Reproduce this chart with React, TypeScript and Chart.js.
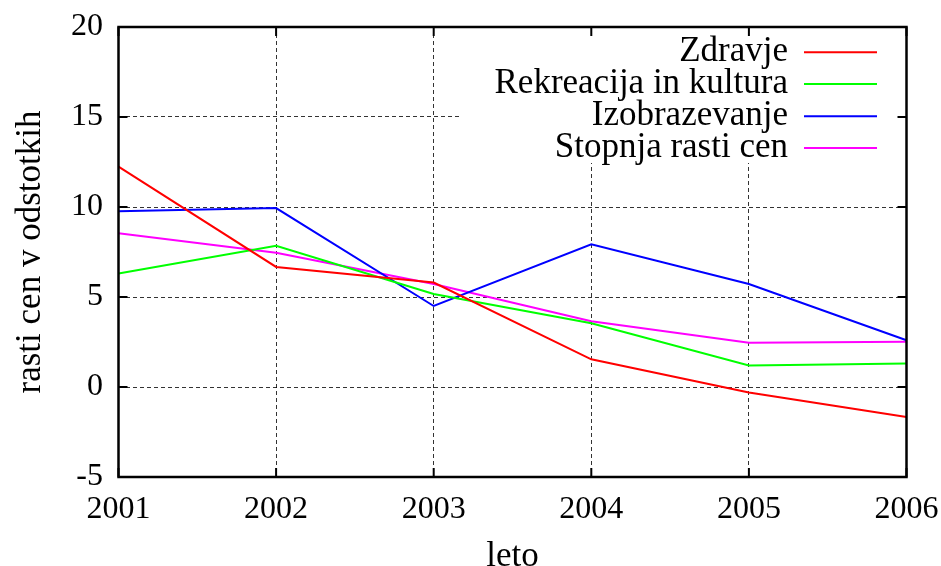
import React, { useEffect, useRef } from "react";
import { Chart, registerables } from "chart.js";

Chart.register(...registerables);

const years = ["2001", "2002", "2003", "2004", "2005", "2006"];
const zdravje = [12.24, 6.67, 5.8, 1.54, -0.3, -1.67];
const rekreacija = [6.3, 7.85, 5.17, 3.54, 1.2, 1.3];
const izobrazevanje = [9.76, 9.94, 4.5, 7.93, 5.72, 2.6];
const stopnja = [8.54, 7.46, 5.72, 3.65, 2.46, 2.52];
const seriesNames = ["Zdravje", "Rekreacija in kultura", "Izobrazevanje", "Stopnja rasti cen"];
const seriesColors = ["#ff0000", "#00ff00", "#0000ff", "#ff00ff"];
const yTicks = [-5, 0, 5, 10, 15, 20];
const xTitle = "leto";
const yTitle = "rasti cen v odstotkih";

const FONT = "'Liberation Serif', 'Times New Roman', serif";
const TICK_SIZE = 32;
const TEXT_SIZE = 35;

const framePlugin = {
  id: "gnuFrame",
  beforeDatasetsDraw(chart: any) {
    const { ctx, chartArea } = chart;
    ctx.save();
    ctx.fillStyle = "#ffffff";
    ctx.fillRect(462, chartArea.top + 1, chartArea.right - 462 - 1, 135);
    ctx.restore();
  },
  afterDraw(chart: any) {
    const { ctx, chartArea, scales } = chart;
    const { left, right, top, bottom } = chartArea;
    ctx.save();
    ctx.strokeStyle = "#000";
    ctx.lineWidth = 2;
    ctx.setLineDash([]);
    const tl = 9;
    ctx.beginPath();
    scales.x.ticks.forEach((_t: any, i: number) => {
      const px = scales.x.getPixelForTick(i);
      ctx.moveTo(px, bottom);
      ctx.lineTo(px, bottom - tl);
      ctx.moveTo(px, top);
      ctx.lineTo(px, top + tl);
    });
    scales.y.ticks.forEach((_t: any, i: number) => {
      const py = scales.y.getPixelForTick(i);
      ctx.moveTo(left, py);
      ctx.lineTo(left + tl, py);
      ctx.moveTo(right, py);
      ctx.lineTo(right - tl, py);
    });
    ctx.stroke();
    ctx.lineWidth = 2.5;
    ctx.strokeRect(left, top, right - left, bottom - top);

    ctx.font = `${TEXT_SIZE}px ${FONT}`;
    ctx.textAlign = "right";
    ctx.textBaseline = "middle";
    const rowY = [52.3, 84, 116.3, 148];
    chart.data.datasets.forEach((ds: any, i: number) => {
      const y = rowY[i];
      ctx.fillStyle = "#000";
      ctx.fillText(ds.label, 788, y);
      ctx.strokeStyle = ds.borderColor;
      ctx.lineWidth = 2;
      ctx.beginPath();
      ctx.moveTo(804, y);
      ctx.lineTo(877, y);
      ctx.stroke();
    });
    ctx.restore();
  },
};

export default function App() {
  const ref = useRef<HTMLCanvasElement | null>(null);

  useEffect(() => {
    document.body.style.margin = "0";
    const canvas = ref.current;
    if (!canvas) return;
    const data = [zdravje, rekreacija, izobrazevanje, stopnja];
    const chart = new Chart(canvas, {
      type: "line",
      data: {
        labels: years,
        datasets: data.map((d, i) => ({
          label: seriesNames[i],
          data: d,
          borderColor: seriesColors[i],
          backgroundColor: seriesColors[i],
          borderWidth: 2,
          pointRadius: 0,
          tension: 0,
          fill: false,
        })),
      },
      options: {
        animation: false,
        responsive: false,
        devicePixelRatio: 1,
        layout: { padding: { left: 0, top: 27, right: 34.5, bottom: 0 } },
        plugins: {
          legend: { display: false },
          tooltip: { enabled: false },
        },
        scales: {
          x: {
            type: "category",
            offset: false,
            grid: {
              color: "rgba(0,0,0,0.8)",
              lineWidth: 1,
              drawTicks: false,
              offset: false,
            },
            border: { display: false, dash: [4, 3] },
            ticks: {
              color: "#000",
              font: { family: FONT, size: TICK_SIZE },
              padding: 13,
              maxRotation: 0,
              autoSkip: false,
            },
            title: {
              display: true,
              text: xTitle,
              color: "#000",
              font: { family: FONT, size: TEXT_SIZE },
              padding: { top: 0, bottom: -12 },
            },
            afterFit(scale: any) {
              scale.height = 566 - 477;
              scale.paddingLeft = 0;
              scale.paddingRight = 0;
              scale.paddingTop = 0;
              scale.paddingBottom = 0;
            },
          },
          y: {
            type: "linear",
            min: -5,
            max: 20,
            afterBuildTicks(scale: any) {
              scale.ticks = yTicks.map((v) => ({ value: v }));
            },
            grid: {
              color: "rgba(0,0,0,0.8)",
              lineWidth: 1,
              drawTicks: false,
            },
            border: { display: false, dash: [4, 3] },
            ticks: {
              color: "#000",
              font: { family: FONT, size: TICK_SIZE },
              padding: 15.5,
            },
            title: {
              display: true,
              text: yTitle,
              color: "#000",
              font: { family: FONT, size: TEXT_SIZE },
              padding: { top: 10, bottom: 0 },
            },
            afterFit(scale: any) {
              scale.width = 118.5;
              scale.paddingLeft = 0;
              scale.paddingRight = 0;
              scale.paddingTop = 0;
              scale.paddingBottom = 0;
            },
          },
        },
      },
      plugins: [framePlugin],
    });
    return () => chart.destroy();
  }, []);

  return (
    <div style={{ width: 941, height: 566 }}>
      <canvas ref={ref} width={941} height={566} style={{ width: 941, height: 566, display: "block" }} />
    </div>
  );
}
